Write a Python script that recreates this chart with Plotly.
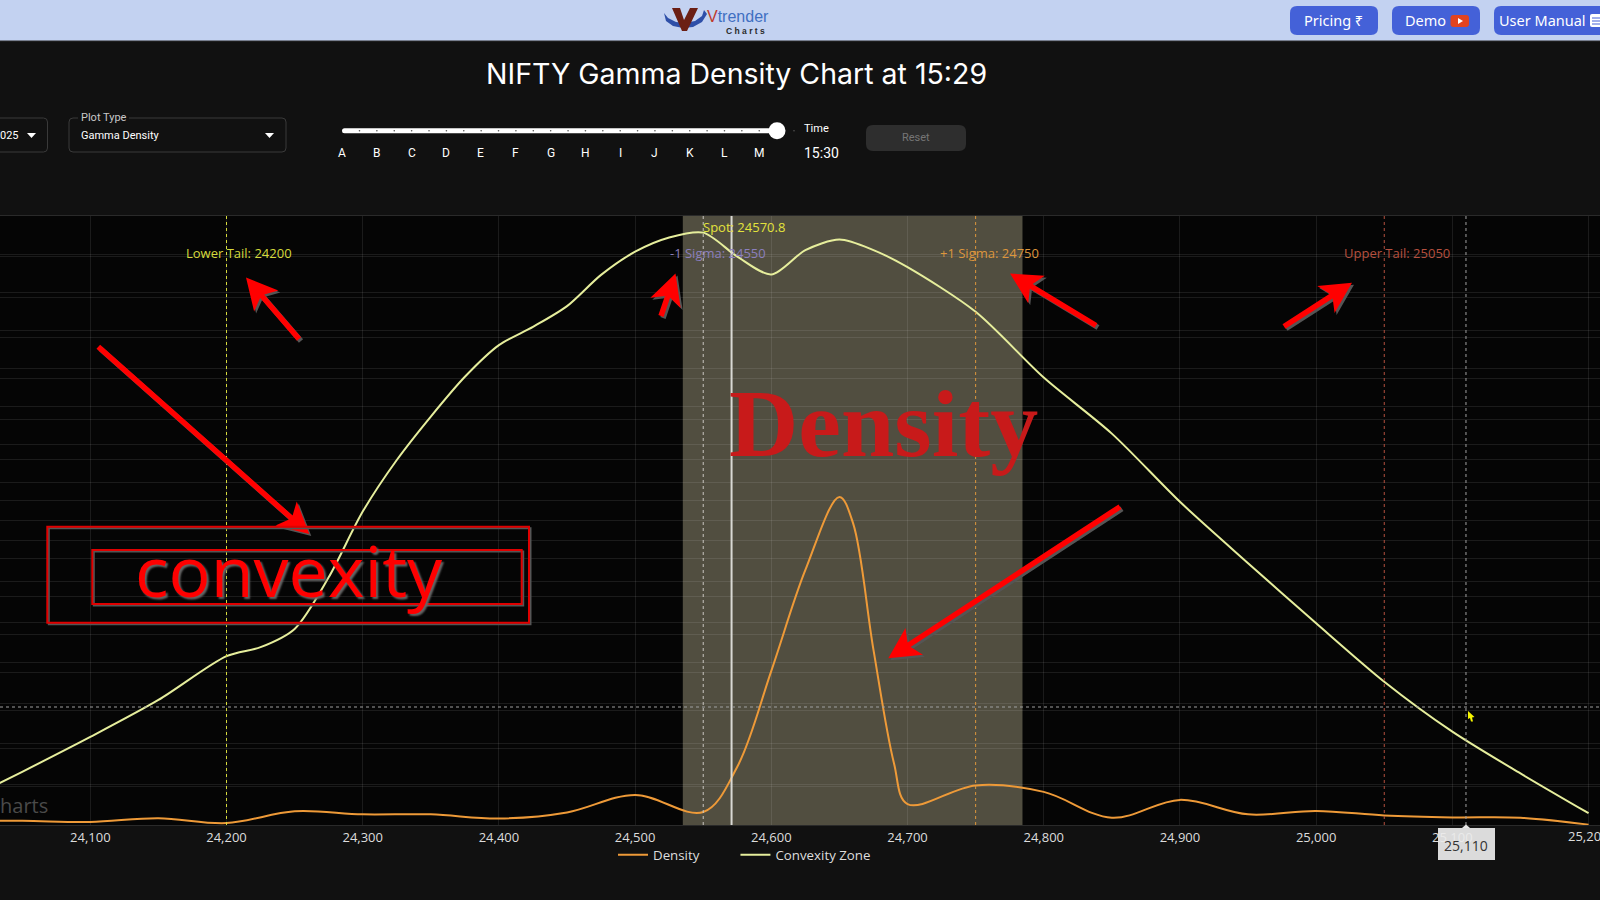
import numpy as np
import plotly.graph_objects as go

# Strikes and curves
strikes = [24000, 24050, 24100, 24150, 24200, 24250, 24300, 24350, 24400, 24450, 24500, 24550,
           24575, 24600, 24625, 24650, 24660, 24675, 24690, 24700, 24750, 24800, 24850, 24900,
           24950, 25000, 25050, 25100, 25150, 25200]
density = [0.11, 0.11, 0.08, 0.18, 0.05, 0.36, 0.28, 0.28, 0.17, 0.33, 0.79, 0.34,
           1.53, 4.05, 6.70, 8.62, 7.93, 4.60, 1.63, 0.55, 1.04, 0.87, 0.19, 0.66,
           0.28, 0.37, 0.25, 0.20, 0.19, 0.01]

conv_strikes = [24000, 24050, 24100, 24150, 24200, 24225, 24250, 24275, 24300, 24325, 24350, 24375, 24400, 24425,
                24450, 24475, 24500, 24525, 24550, 24575, 24600, 24625, 24650, 24675, 24700, 24750,
                24800, 24850, 24900, 24950, 25000, 25050, 25100, 25150, 25200]
convexity = [0.47, 1.31, 2.17, 3.08, 4.16, 4.38, 4.83, 6.10, 7.72, 8.99, 10.06, 11.04, 11.82, 12.27,
             12.78, 13.55, 14.12, 14.47, 14.59, 14.00, 13.56, 14.16, 14.42, 14.16, 13.74, 12.64,
             11.02, 9.64, 7.96, 6.45, 4.97, 3.53, 2.30, 1.27, 0.29]

tick_vals = [24100, 24200, 24300, 24400, 24500, 24600, 24700, 24800, 24900, 25000, 25100, 25200]
zone = [24535, 24784.4]
spot = 24570.8
cross_strike = 25110
cross_level = 3.10

# label, strike, colour, label strike position
levels = [
    ("Lower Tail: 24200", 24200, "#d6da3c", 24209),
    ("-1 Sigma: 24550", 24550, "#8b7fbd", 24561),
    ("+1 Sigma: 24750", 24750, "#dd963c", 24760),
    ("Upper Tail: 25050", 25050, "#b5503f", 25059),
]
letters = list("ABCDEFGHIJKLM")

W, H = 1600, 900
PLOT_TOP, PLOT_BOTTOM = 216, 825
BG = "#111111"


def px(x):
    return x / W


def py(y):
    return 1 - y / H


def rounded(x0, y0, x1, y1, r):
    # rounded box as svg path, paper coordinates
    return (f"M{px(x0 + r)},{py(y0)} L{px(x1 - r)},{py(y0)} Q{px(x1)},{py(y0)} {px(x1)},{py(y0 + r)} "
            f"L{px(x1)},{py(y1 - r)} Q{px(x1)},{py(y1)} {px(x1 - r)},{py(y1)} "
            f"L{px(x0 + r)},{py(y1)} Q{px(x0)},{py(y1)} {px(x0)},{py(y1 - r)} "
            f"L{px(x0)},{py(y0 + r)} Q{px(x0)},{py(y0)} {px(x0 + r)},{py(y0)} Z")


def poly(points):
    return "M" + " L".join(f"{px(a)},{py(b)}" for a, b in points) + " Z"


def arrow(tail, tip, width=5.5, head_len=31, head_w=32):
    tail = np.array(tail, dtype=float)
    tip = np.array(tip, dtype=float)
    d = (tip - tail) / np.linalg.norm(tip - tail)
    n = np.array([-d[1], d[0]])
    neck = tip - d * head_len * 0.8
    back = tip - d * head_len
    pts = [tail + n * width / 2, neck + n * width / 2, back + n * head_w / 2, tip,
           back - n * head_w / 2, neck - n * width / 2, tail - n * width / 2]
    return pts


fig = go.Figure()

# trailing nbsp only pushes the second legend entry along
fig.add_trace(go.Scatter(x=strikes, y=density, name="Density" + "\u00a0" * 9, mode="lines",
                         line=dict(color="#ee9a38", width=2, shape="spline", smoothing=1.0)))
fig.add_trace(go.Scatter(x=conv_strikes, y=convexity, name="Convexity Zone", mode="lines", yaxis="y2",
                         line=dict(color="#e6ee9c", width=2, shape="spline", smoothing=0.8)))

shapes = []
notes = []


def box(x0, y0, x1, y1, fill, line=None, r=0, width=1):
    shapes.append(dict(type="path", path=rounded(x0, y0, x1, y1, r), xref="paper", yref="paper",
                       fillcolor=fill, line=dict(color=line or "rgba(0,0,0,0)", width=width)))


def label(x, y, text, size=12, color="#ffffff", anchor="center", family="Roboto", **kw):
    notes.append(dict(x=px(x), y=py(y), xref="paper", yref="paper", text=text, showarrow=False,
                      xanchor=anchor, yanchor="middle", font=dict(size=size, color=color, family=family), **kw))


# zone band under the gridlines
shapes.append(dict(type="rect", x0=zone[0], x1=zone[1], y0=0, y1=1, xref="x", yref="y domain",
                   fillcolor="#514e40", line=dict(width=0), layer="below"))

# level lines
for text, strike, color, lab in levels:
    line_color = "#c9c6c0" if strike == 24550 else color
    shapes.append(dict(type="line", x0=strike, x1=strike, y0=0, y1=1, xref="x", yref="y domain",
                       line=dict(color=line_color, width=1, dash="dot")))
    notes.append(dict(x=lab, y=py(253), xref="x", yref="paper", text=text, showarrow=False,
                      xanchor="center", yanchor="middle", font=dict(size=13, color=color, family="Open Sans")))
shapes.append(dict(type="line", x0=spot, x1=spot, y0=0, y1=1, xref="x", yref="y domain",
                   line=dict(color="#d9d9d4", width=2)))
notes.append(dict(x=spot + 9, y=py(227), xref="x", yref="paper", text=f"Spot: {spot}", showarrow=False,
                  xanchor="center", yanchor="middle", font=dict(size=13, color="#e3e33c", family="Open Sans")))

# crosshair
shapes.append(dict(type="line", x0=cross_strike, x1=cross_strike, y0=0, y1=1, xref="x", yref="y domain",
                   line=dict(color="#a0a0a0", width=1, dash="dot")))
shapes.append(dict(type="line", x0=0, x1=1, y0=cross_level, y1=cross_level, xref="x domain", yref="y",
                   line=dict(color="#a0a0a0", width=1, dash="dot")))

# top bar
shapes.append(dict(type="rect", x0=0, x1=1, y0=py(41), y1=1, xref="paper", yref="paper",
                   fillcolor="#c3d2f1", line=dict(width=0)))
shapes.append(dict(type="line", x0=0, x1=1, y0=py(41), y1=py(41), xref="paper", yref="paper",
                   line=dict(color="#2c2c2c", width=1)))

# logo
shapes.append(dict(type="path", path=poly([(664, 13), (668, 18), (676, 22), (685, 23), (695, 21), (702, 16), (704, 10),
                                           (707, 14), (702, 22), (693, 27), (683, 28), (673, 26), (666, 21)]),
                   xref="paper", yref="paper", fillcolor="#2e4fa8", line=dict(width=0)))
shapes.append(dict(type="path", path=poly([(672, 8), (680, 8), (684, 20), (690, 8), (698, 8), (687, 31), (682, 31)]),
                   xref="paper", yref="paper", fillcolor="#6b1f14", line=dict(width=0)))
label(738, 16, "<span style='color:#c0392b'>V</span>trender", 16, "#3f6fc2", family="Liberation Sans")
label(745, 31, "<b>C h a r t s</b>", 8.5, "#2a2a2a", family="Liberation Sans")

# header buttons
for x0, x1, text, tx in [(1290, 1378, "Pricing ₹", 1333), (1392, 1480, "Demo", 1425), (1494, 1610, "User Manual", 1542)]:
    box(x0, 6, x1, 35, "#4461d8", r=7)
    label(tx, 20, text, 14.5, "#ffffff", family="Noto Sans")
box(1450.5, 15, 1469, 27, "#e2431f", r=3)
shapes.append(dict(type="path", path=poly([(1458, 18), (1463, 21), (1458, 24)]), xref="paper", yref="paper",
                   fillcolor="#ffffff", line=dict(width=0)))
box(1590, 14, 1602, 27, "#ffffff", r=2)
for line_y in (18, 21, 24):
    shapes.append(dict(type="line", x0=px(1592), x1=px(1600), y0=py(line_y), y1=py(line_y), xref="paper", yref="paper",
                       line=dict(color="#4461d8", width=1)))

# title
label(736, 73, "NIFTY Gamma Density Chart at 15:29", 28.5, "#ffffff", family="Inter")

# dropdowns
box(-20, 118, 47.5, 152, BG, "#3a3a3a", r=4)
label(-2, 135, "025", 11, anchor="left")
shapes.append(dict(type="path", path=poly([(27, 133), (36, 133), (31.5, 138)]), xref="paper", yref="paper",
                   fillcolor="#ffffff", line=dict(width=0)))
box(69, 118, 286, 152, BG, "#3a3a3a", r=4)
box(78, 114, 129, 122, BG)
label(79, 117, "Plot Type", 11, "#c8c8c8", anchor="left")
label(79, 135, "Gamma Density", 11, anchor="left")
shapes.append(dict(type="path", path=poly([(265, 133), (274, 133), (269.5, 138)]), xref="paper", yref="paper",
                   fillcolor="#ffffff", line=dict(width=0)))

# slider
box(342, 128.2, 777, 133.2, "#ffffff", r=2.5)
for i in range(26):
    dot_x = 359.5 + i * 17.38
    shapes.append(dict(type="circle", x0=px(dot_x - 0.8), x1=px(dot_x + 0.8), y0=py(131.5), y1=py(129.9),
                       xref="paper", yref="paper", fillcolor="#555555", line=dict(width=0)))
shapes.append(dict(type="circle", x0=px(768.5), x1=px(785.5), y0=py(139.2), y1=py(122.2), xref="paper", yref="paper",
                   fillcolor="#ffffff", line=dict(width=0)))
for i, letter in enumerate(letters):
    label(342 + i * 34.75, 153, letter, 12)
label(802, 129, "Time", 11, anchor="left")
label(802, 153, "15:30", 14, anchor="left")
box(866, 125, 966, 151, "#2e2e2e", r=7)
label(916, 137.5, "Reset", 11, "#767676")

# watermark
label(-2, 805, "harts", 20, "#4a4a4a", anchor="left", family="Open Sans")

# last tick label runs off the window, plotly drops it so put it in by hand
notes.append(dict(x=25200, y=py(835.5), xref="x", yref="paper", text=f"{tick_vals[-1]:,}", showarrow=False,
                  xanchor="center", yanchor="middle", font=dict(size=13, color="#dddddd", family="Open Sans")))

# red call-out arrows with a grey shadow
arrows = [((299, 339), (246, 277.5)), ((661, 316), (675.5, 273.5)), ((1096, 325.5), (1010, 273.5)),
          ((1284, 326.5), (1352, 282.7)), ((98.3, 346.7), (309.3, 534)), ((1120, 506.7), (888.3, 658.3))]
for tail, tip in arrows:
    pts = arrow(tail, tip)
    shapes.append(dict(type="path", path=poly([(a + 2, b + 2) for a, b in pts]), xref="paper", yref="paper",
                       fillcolor="#555555", line=dict(width=0)))
    shapes.append(dict(type="path", path=poly(pts), xref="paper", yref="paper",
                       fillcolor="#ff0000", line=dict(width=0)))

# convexity boxes
for x0, y0, x1, y1 in [(47.3, 526.7, 529, 622.7), (92.3, 550, 521.7, 604)]:
    shapes.append(dict(type="rect", x0=px(x0 + 1.5), x1=px(x1 + 1.5), y0=py(y0 + 1.5), y1=py(y1 + 1.5),
                       xref="paper", yref="paper", line=dict(color="#555555", width=2)))
    shapes.append(dict(type="rect", x0=px(x0), x1=px(x1), y0=py(y0), y1=py(y1),
                       xref="paper", yref="paper", line=dict(color="#e00000", width=2)))
notes.append(dict(x=px(289), y=py(570), xref="paper", yref="paper", text="convexity", showarrow=False,
                  xanchor="center", yanchor="middle",
                  font=dict(size=70, color="#ff0000", family="Open Sans", shadow="2px 2px 2px #666666")))

notes.append(dict(x=px(883), y=py(423), xref="paper", yref="paper", text="<b>Density</b>", showarrow=False,
                  xanchor="center", yanchor="middle",
                  font=dict(size=96, color="#c81a1a", family="Liberation Serif")))

# crosshair tag and cursor
shapes.append(dict(type="path", path=poly([(1462, 828), (1466, 824.5), (1470, 828)]), xref="paper", yref="paper",
                   fillcolor="#e8e8e8", line=dict(width=0)))
shapes.append(dict(type="rect", x0=px(1438), x1=px(1495), y0=py(828), y1=py(860), xref="paper", yref="paper",
                   fillcolor="rgba(235,235,235,0.93)", line=dict(width=0)))
notes.append(dict(x=cross_strike, y=py(845), xref="x", yref="paper", text=f"{cross_strike:,}", showarrow=False,
                  xanchor="center", yanchor="middle", font=dict(size=14, color="#333333", family="Open Sans")))
shapes.append(dict(type="path", path=poly([(1468, 711), (1474.5, 717), (1472, 717.5), (1473, 721.5), (1471, 721.5), (1470, 718), (1468, 719)]),
                   xref="paper", yref="paper", fillcolor="#f5f500", line=dict(width=0)))

fig.update_layout(
    width=W, height=H,
    margin=dict(l=0, r=0, t=0, b=0),
    paper_bgcolor=BG,
    plot_bgcolor="#050505",
    font=dict(family="Open Sans", color="#dddddd", size=13),
    shapes=shapes,
    annotations=notes,
    showlegend=True,
    legend=dict(orientation="h", x=px(613), xanchor="left", y=py(855), yanchor="middle",
                bgcolor="rgba(0,0,0,0)", font=dict(size=13.3, color="#dddddd")),
    xaxis=dict(range=[24033.7, 25208.4], domain=[0, 1], tickvals=tick_vals, tickformat=",d",
               showgrid=True, gridcolor="rgba(255,255,255,0.09)", zeroline=False, ticks="",
               showline=True, linecolor="#2a2a2a", mirror=True, tickfont=dict(size=13, color="#dddddd")),
    yaxis=dict(range=[0, 16], dtick=1, domain=[py(PLOT_BOTTOM), py(PLOT_TOP)], showticklabels=False,
               showgrid=True, gridcolor="rgba(255,255,255,0.09)", zeroline=False, ticks=""),
    yaxis2=dict(range=[0, 15], dtick=1, overlaying="y", side="right", showticklabels=False,
                showgrid=True, gridcolor="rgba(255,255,255,0.09)", zeroline=False, ticks=""),
)

# page margin off so the figure fills the window
fig.write_html("out.html", config={"displayModeBar": False}, post_script="document.body.style.margin='0';")
